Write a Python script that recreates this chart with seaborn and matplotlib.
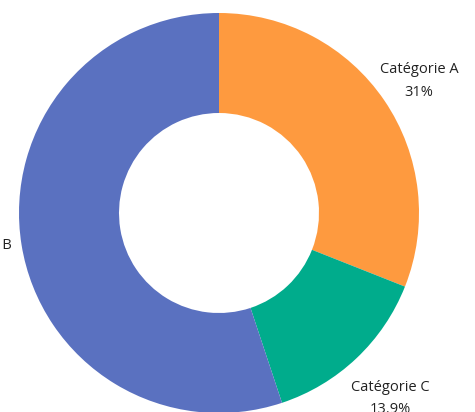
import matplotlib
matplotlib.use("Agg")
import numpy as np
import matplotlib.pyplot as plt
import seaborn as sns

categories = ["Catégorie A", "Catégorie C", "Catégorie B"]
shares = [31, 13.9, 55.1]
colors = ["#FE9A3F", "#00AC8C", "#5A71C0"]
label_dist = [1.21, 1.25, 1.25]

sns.set_theme(style="white")
plt.rcParams['font.family'] = ['Open Sans', 'DejaVu Sans']

fig = plt.figure(figsize=(4.75, 4.12), dpi=100)
ax = fig.add_axes([0, 0, 1, 1])

labels = [f"{c}\n{s:g}%" for c, s in zip(categories, shares)]
wedges, texts = ax.pie(shares, labels=labels, colors=colors, startangle=90,
                       counterclock=False, labeldistance=1.2,
                       wedgeprops=dict(width=0.5, linewidth=0),
                       textprops=dict(fontsize=10.5, color="#222222"))
# place each label along its wedge's middle direction
for w, t, d in zip(wedges, texts, label_dist):
    ang = np.deg2rad((w.theta1 + w.theta2) / 2)
    t.set_position((d * np.cos(ang), d * np.sin(ang) - 0.02))
    t.set_horizontalalignment("center")
    t.set_verticalalignment("center")
    t.set_linespacing(1.65)

ax.set_aspect("auto")
ax.set_xlim(-1.095, 1.28)
ax.set_ylim(-0.995, 1.065)
ax.axis("off")

fig.savefig("out.png", dpi=100)
